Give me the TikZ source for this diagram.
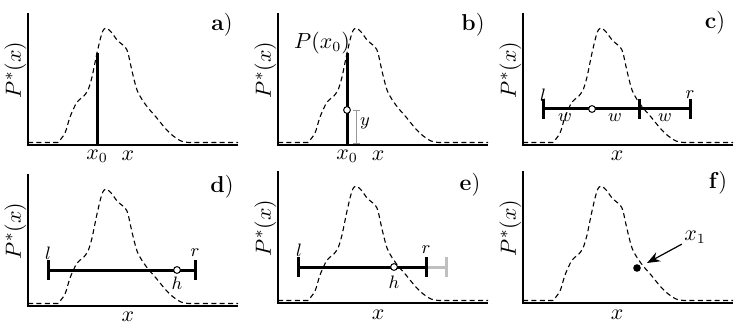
\documentclass[tikz,border=0pt]{standalone}
\usetikzlibrary{arrows.meta}
\tikzset{
  axisline/.style={line width=1pt},
  dens/.style={line width=0.55pt, dash pattern=on 2.5pt off 1.7pt},
  barline/.style={line width=1.5pt},
  greyline/.style={line width=0.4pt, draw=black!40},
  greybar/.style={line width=1.5pt, draw=black!25},
  ylab/.style={font=\fontsize{11}{13}\selectfont, inner sep=0pt},
  midlab/.style={font=\fontsize{10.5}{12}\selectfont, inner sep=0pt},
  smalllab/.style={font=\fontsize{9}{10}\selectfont, inner sep=0pt},
  plab/.style={font=\fontsize{11.5}{13}\selectfont, inner sep=0pt},
  opendot/.style={circle, draw, fill=white, line width=0.5pt, inner sep=0pt, minimum size=3.4pt},
  fulldot/.style={circle, fill=black, inner sep=0pt, minimum size=3.8pt},
}
\newcommand\panelbase[1]{%
  \draw[axisline] (0,132) -- (0,0) -- (210,0);
  \draw[dens] (0,2.5) -- (30,2.5) -- plot[smooth,tension=0.5] coordinates {(30,2.5) (37,12) (42,28) (49,43) (55,48) (60,55) (64,68) (69,92) (74,112) (78,117) (84,112) (89,105) (97,98) (100,92) (104,74) (109,55) (115,44) (121,36) (128,28) (137,17) (144,10) (153,4) (161,2.5)} -- (210,2.5);
  \node[ylab, rotate=90] (#1P) at (-12.5,75) {$P^*(x)$};
}
\begin{document}
\begin{tikzpicture}[x=0.5pt,y=-0.5pt]
\useasboundingbox (0,0) rectangle (747,331);
% ---------- a ----------
\begin{scope}[shift={(28,145)},yscale=-1]
  \panelbase{a}
  \coordinate (abot) at (69,0); \coordinate (atop) at (69,92);
  \draw[barline] (abot) -- (atop);
  \node[midlab] (ax0) at (69,-11) {$x_0$};
  \node[midlab] (ax) at (100,-11) {$x$};
  \node[plab] (alab) at (194,120) {\textbf{a})};
\end{scope}
% ---------- b ----------
\begin{scope}[shift={(278,145)},yscale=-1]
  \panelbase{b}
  \coordinate (bbot) at (69,0); \coordinate (btop) at (69,92);
  \draw[barline] (bbot) -- (btop);
  \coordinate (bt1a) at (75,35); \coordinate (bt1b) at (82,35);
  \coordinate (bt2a) at (75,2); \coordinate (bt2b) at (82,2);
  \coordinate (bva) at (78.5,2); \coordinate (bvb) at (78.5,35);
  \draw[greyline] (bt1a) -- (bt1b);
  \draw[greyline] (bt2a) -- (bt2b);
  \draw[greyline] (bva) -- (bvb);
  \node[opendot] (bcirc) at (69,35) {};
  \node[smalllab] (by) at (87,22) {$y$};
  \node[midlab] (bPx) at (44,102) {$P(x_0)$};
  \node[midlab] (bx0) at (69,-11) {$x_0$};
  \node[midlab] (bx) at (100,-11) {$x$};
  \node[plab] (blab) at (195,120) {\textbf{b})};
\end{scope}
% ---------- c ----------
\begin{scope}[shift={(523,145)},yscale=-1]
  \panelbase{c}
  \coordinate (cl) at (20,36); \coordinate (cr) at (167,36); \coordinate (cm) at (116,36);
  \draw[barline] (cl) -- (cr);
  \draw[barline] ([yshift=-5]cl) -- ([yshift=5]cl);
  \draw[barline] ([yshift=-5]cm) -- ([yshift=5]cm);
  \draw[barline] ([yshift=-5]cr) -- ([yshift=5]cr);
  \node[opendot] (ccirc) at (69,36) {};
  \node[smalllab] (cw1) at (42,27) {$w$};
  \node[smalllab] (cw2) at (92,27) {$w$};
  \node[smalllab] (cw3) at (142,27) {$w$};
  \node[smalllab] (cll) at (20,50) {$l$};
  \node[smalllab] (crl) at (167,50) {$r$};
  \node[midlab] (cx) at (94,-11) {$x$};
  \node[plab] (clab) at (192,122) {\textbf{c})};
\end{scope}
% ---------- d ----------
\begin{scope}[shift={(28,306)},yscale=-1]
  \panelbase{d}
  \coordinate (dl) at (20,36); \coordinate (dr) at (167,36);
  \draw[barline] (dl) -- (dr);
  \draw[barline] ([yshift=-5]dl) -- ([yshift=5]dl);
  \draw[barline] ([yshift=-5]dr) -- ([yshift=5]dr);
  \node[opendot] (dcirc) at (149,36) {};
  \node[smalllab] (dll) at (20,53) {$l$};
  \node[smalllab] (drl) at (167,53) {$r$};
  \node[smalllab] (dh) at (149,23) {$h$};
  \node[midlab] (dx) at (100,-11) {$x$};
  \node[plab] (dlab) at (194,119) {\textbf{d})};
\end{scope}
% ---------- e ----------
\begin{scope}[shift={(278,303)},yscale=-1]
  \panelbase{e}
  \coordinate (el) at (20,36); \coordinate (er) at (148,36); \coordinate (eg) at (168,36);
  \draw[greybar] (er) -- (eg);
  \draw[greybar] ([yshift=-5]eg) -- ([yshift=5]eg);
  \draw[barline] (el) -- (er);
  \draw[barline] ([yshift=-5]el) -- ([yshift=5]el);
  \draw[barline] ([yshift=-5]er) -- ([yshift=5]er);
  \node[opendot] (ecirc) at (116,36) {};
  \node[smalllab] (ell) at (21,53) {$l$};
  \node[smalllab] (erl) at (148,53) {$r$};
  \node[smalllab] (eh) at (116,21) {$h$};
  \node[midlab] (ex) at (100,-12) {$x$};
  \node[plab] (elab) at (192,118) {\textbf{e})};
\end{scope}
% ---------- f ----------
\begin{scope}[shift={(523,303)},yscale=-1]
  \panelbase{f}
  \node[fulldot] (fdot) at (114,35) {};
  \node[midlab, inner sep=1pt] (fx1) at (172,66) {$x_1$};
  \coordinate (ftip) at (124,40);
  \draw[line width=0.6pt, -{Stealth[length=6.5pt,width=5pt]}] (fx1) -- (ftip);
  \node[midlab] (fx) at (94,-12) {$x$};
  \node[plab] (flab) at (195,120) {\textbf{f})};
\end{scope}
\end{tikzpicture}
\end{document}
